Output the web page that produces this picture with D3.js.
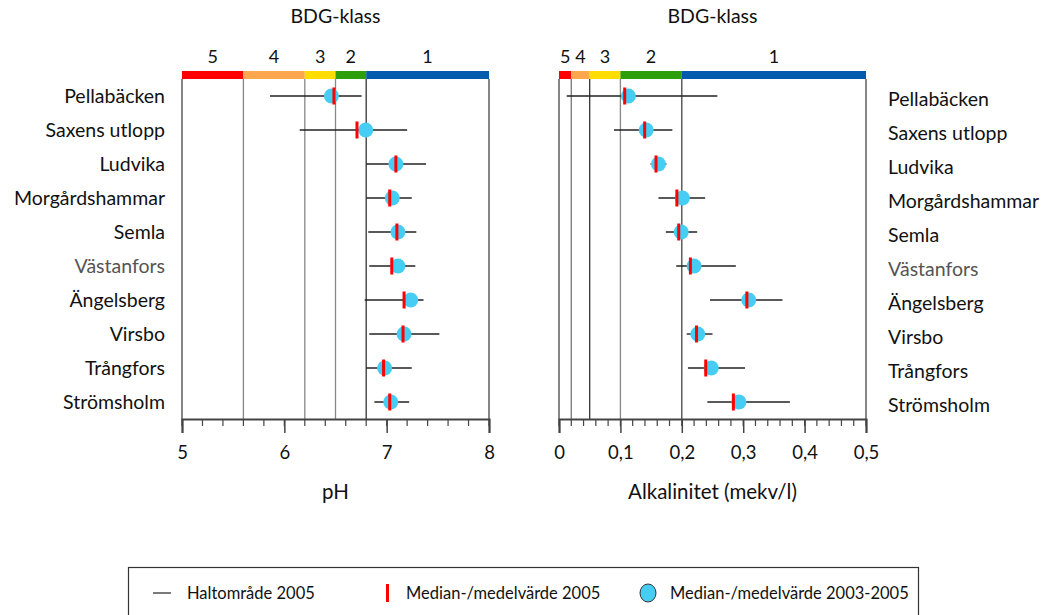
<!DOCTYPE html>
<html>
<head>
<meta charset="utf-8">
<script src="https://cdn.jsdelivr.net/npm/d3@7"></script>
<style>
  body { margin: 0; background: #fff; }
  svg text { font-family: Lato, "Open Sans", sans-serif; fill: #111; }
</style>
</head>
<body>
<svg id="chart" width="1046" height="615"></svg>
<script>

var sites = ["Pellabäcken", "Saxens utlopp", "Ludvika", "Morgårdshammar", "Semla",
             "Västanfors", "Ängelsberg", "Virsbo", "Trångfors", "Strömsholm"]

// pH
var phMin   = [5.86, 6.15, 6.80, 6.80, 6.82, 6.83, 6.785, 6.83, 6.80, 6.88]
var phMax   = [6.755, 7.20, 7.385, 7.245, 7.29, 7.28, 7.36, 7.515, 7.245, 7.22]
var phMed05 = [6.485, 6.71, 7.09, 7.03, 7.10, 7.05, 7.17, 7.16, 6.97, 7.03]
var phMed   = [6.46, 6.795, 7.09, 7.055, 7.11, 7.11, 7.235, 7.17, 6.98, 7.04]

// alkalinitet (mekv/l)
var alkMin   = [0.0125, 0.0896, 0.149, 0.162, 0.174, 0.191, 0.246, 0.208, 0.210, 0.2416]
var alkMax   = [0.258, 0.1846, 0.175, 0.238, 0.225, 0.288, 0.364, 0.250, 0.303, 0.376]
var alkMed05 = [0.107, 0.1395, 0.158, 0.192, 0.195, 0.214, 0.306, 0.224, 0.239, 0.284]
var alkMed   = [0.113, 0.142, 0.162, 0.201, 0.199, 0.220, 0.309, 0.226, 0.248, 0.293]

// BDG-klass gränser
var phClasses  = [{k: "5", a: 5, b: 5.6}, {k: "4", a: 5.6, b: 6.2}, {k: "3", a: 6.2, b: 6.5},
                  {k: "2", a: 6.5, b: 6.8}, {k: "1", a: 6.8, b: 8}]
var alkClasses = [{k: "5", a: 0, b: 0.02}, {k: "4", a: 0.02, b: 0.05}, {k: "3", a: 0.05, b: 0.1},
                  {k: "2", a: 0.1, b: 0.2}, {k: "1", a: 0.2, b: 0.5}]
var classColors = {"5": "#ff0000", "4": "#fda84f", "3": "#ffdd00", "2": "#2e9e0a", "1": "#005bac"}

var phTicks  = [5, 6, 7, 8]
var alkTicks = [0, 0.1, 0.2, 0.3, 0.4, 0.5]

var svg = d3.select("#chart")

var barTop = 71, barH = 8, axisY = 419

var y = d3.scalePoint()
    .domain(sites)
    .range([96, 402])

function makeRows(min, max, med05, med){
  return sites.map(function(s, i){
    return {site: s, min: min[i], max: max[i], med05: med05[i], med: med[i]}
  })
}

function drawPanel(opt){
  var x = d3.scaleLinear().domain(opt.domain).range(opt.range)
  var g = svg.append("g")
  var midX = (opt.range[0] + opt.range[1]) / 2

  g.append("text")
    .attr("x", midX).attr("y", 23)
    .attr("text-anchor", "middle")
    .style("font-size", "19.5px")
    .text("BDG-klass")

  // colour bar
  g.selectAll(".cls").data(opt.classes)
    .enter().append("rect")
      .attr("x", function(d){ return x(d.a) })
      .attr("y", barTop)
      .attr("width", function(d){ return x(d.b) - x(d.a) })
      .attr("height", barH)
      .attr("fill", function(d){ return classColors[d.k] })

  g.selectAll(".clslab").data(opt.classes)
    .enter().append("text")
      .attr("x", function(d){ return (x(d.a) + x(d.b)) / 2 })
      .attr("y", 63)
      .attr("text-anchor", "middle")
      .style("font-size", "18px")
      .text(function(d){ return d.k })

  // vertical class lines
  g.selectAll(".vline").data(opt.vlines)
    .enter().append("line")
      .attr("x1", function(d){ return x(d.v) })
      .attr("x2", function(d){ return x(d.v) })
      .attr("y1", barTop + barH)
      .attr("y2", axisY)
      .attr("stroke", function(d){ return d.c })
      .attr("stroke-width", 1.3)

  // axis
  var axis = d3.axisBottom(x)
      .tickValues(opt.ticks)
      .tickSize(14)
      .tickPadding(13)
      .tickFormat(opt.fmt)
  var ax = g.append("g")
      .attr("transform", "translate(0," + axisY + ")")
      .call(axis)
  ax.select(".domain").attr("stroke", "#444").attr("stroke-width", 2)
  ax.selectAll(".tick line").attr("stroke", "#444").attr("stroke-width", 1.5)
  ax.selectAll(".tick text").style("font-size", "18.5px").style("font-family", "Lato, sans-serif").attr("fill", "#222")

  g.append("g")
    .attr("transform", "translate(0," + axisY + ")")
    .selectAll("line").data(opt.minor)
    .enter().append("line")
      .attr("x1", function(d){ return x(d) })
      .attr("x2", function(d){ return x(d) })
      .attr("y1", 0).attr("y2", 7)
      .attr("stroke", "#444").attr("stroke-width", 1.2)

  g.append("text")
    .attr("x", midX).attr("y", 499)
    .attr("text-anchor", "middle")
    .style("font-size", "20.5px")
    .text(opt.title)

  // site labels
  g.selectAll(".site").data(sites)
    .enter().append("text")
      .attr("x", opt.labelX)
      .attr("y", function(d){ return y(d) + opt.labelDy })
      .attr("text-anchor", opt.labelAnchor)
      .style("font-size", "19.5px")
      .style("fill", function(d){ return d == "Västanfors" ? "#555" : "#111" })
      .text(function(d){ return d })

  var rows = g.selectAll(".row").data(opt.rows)
    .enter().append("g")

  rows.append("line")
    .attr("x1", function(d){ return x(d.min) })
    .attr("x2", function(d){ return x(d.max) })
    .attr("y1", function(d){ return y(d.site) })
    .attr("y2", function(d){ return y(d.site) })
    .attr("stroke", "#222").attr("stroke-width", 1.4)

  rows.append("circle")
    .attr("cx", function(d){ return x(d.med) })
    .attr("cy", function(d){ return y(d.site) })
    .attr("r", 7.5)
    .attr("fill", "#45cdf4")

  rows.append("rect")
    .attr("x", function(d){ return x(d.med05) - 1.5 })
    .attr("y", function(d){ return y(d.site) - 8.5 })
    .attr("width", 3)
    .attr("height", 17)
    .attr("fill", "#ff0000")
}

var commaFmt = function(d){ return d3.format("")(d).replace(".", ",") }

drawPanel({
  domain: [5, 8], range: [182, 489],
  classes: phClasses,
  vlines: [{v: 5, c: "#444"}, {v: 5.6, c: "#888"}, {v: 6.2, c: "#888"}, {v: 6.5, c: "#888"},
           {v: 6.8, c: "#333"}, {v: 8, c: "#444"}],
  ticks: phTicks,
  minor: d3.range(5, 8.001, 0.2),
  fmt: commaFmt,
  title: "pH",
  rows: makeRows(phMin, phMax, phMed05, phMed),
  labelX: 165, labelAnchor: "end", labelDy: 7
})

drawPanel({
  domain: [0, 0.5], range: [559, 866],
  classes: alkClasses,
  vlines: [{v: 0, c: "#444"}, {v: 0.02, c: "#777"}, {v: 0.05, c: "#333"}, {v: 0.1, c: "#888"},
           {v: 0.2, c: "#444"}, {v: 0.5, c: "#444"}],
  ticks: alkTicks,
  minor: d3.range(0, 0.5001, 0.02),
  fmt: commaFmt,
  title: "Alkalinitet (mekv/l)",
  rows: makeRows(alkMin, alkMax, alkMed05, alkMed),
  labelX: 888, labelAnchor: "start", labelDy: 10
})

// legend
var leg = svg.append("g")
leg.append("rect")
  .attr("x", 128.5).attr("y", 567.5)
  .attr("width", 790).attr("height", 80)
  .attr("fill", "none").attr("stroke", "#333").attr("stroke-width", 1.2)

leg.append("line")
  .attr("x1", 153).attr("x2", 171).attr("y1", 593).attr("y2", 593)
  .attr("stroke", "#222").attr("stroke-width", 1.2)
leg.append("text").attr("x", 187).attr("y", 599).style("font-size", "16.5px").text("Haltområde 2005")

leg.append("rect")
  .attr("x", 386).attr("y", 584).attr("width", 3).attr("height", 18).attr("fill", "#ff0000")
leg.append("text").attr("x", 406).attr("y", 599).style("font-size", "16.5px").text("Median-/medelvärde 2005")

leg.append("ellipse")
  .attr("cx", 648).attr("cy", 593).attr("rx", 8).attr("ry", 9)
  .attr("fill", "#45cdf4").attr("stroke", "#333").attr("stroke-width", 1)
leg.append("text").attr("x", 670).attr("y", 599).style("font-size", "16.5px").text("Median-/medelvärde 2003-2005")

</script>
</body>
</html>
